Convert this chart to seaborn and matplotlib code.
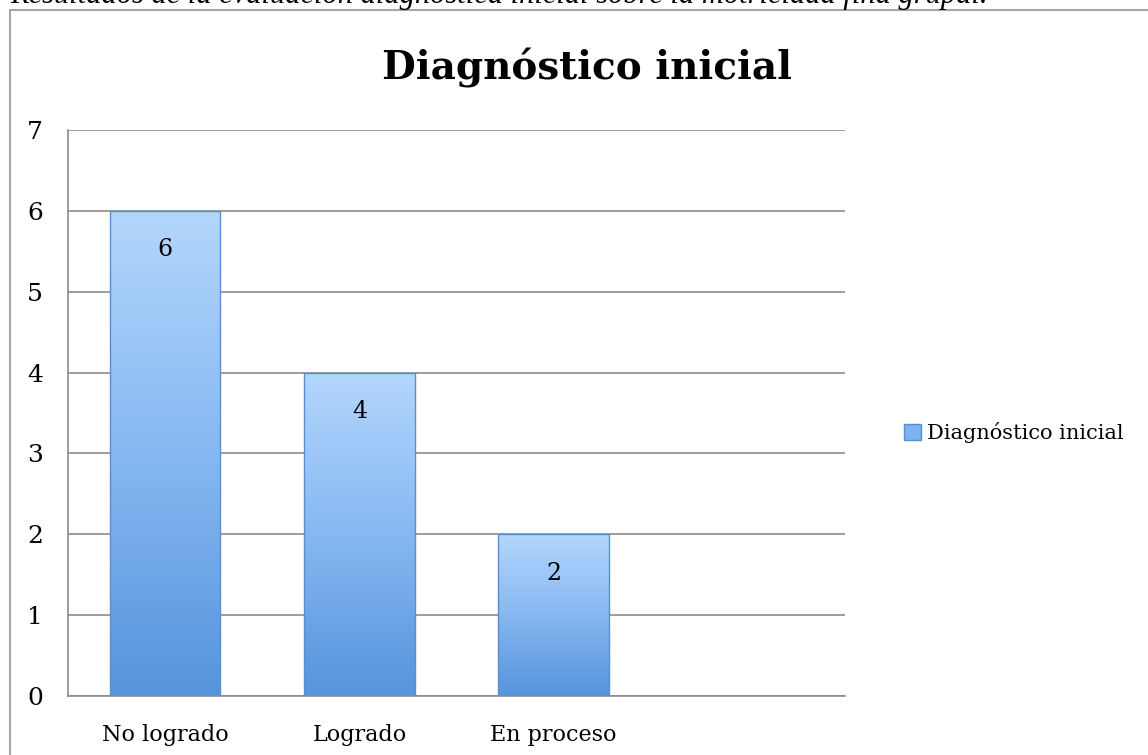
import matplotlib
matplotlib.use("Agg")
import matplotlib.pyplot as plt
import seaborn as sns
import numpy as np
import pandas as pd
from matplotlib.colors import LinearSegmentedColormap
from matplotlib.lines import Line2D
from matplotlib.patches import Patch

# datos del grafico
categorias = ["No logrado", "Logrado", "En proceso"]
valores = [6, 4, 2]
serie = "Diagnóstico inicial"
titulo = "Diagnóstico inicial"
leyenda_figura = "Resultados de la evaluación diagnóstica inicial sobre la motricidad fina grupal."
marcas_y = [0, 1, 2, 3, 4, 5, 6, 7]

sns.set_style("white")
plt.rcParams['font.family'] = ['DejaVu Serif']
plt.rcParams['text.color'] = 'black'
plt.rcParams['xtick.color'] = 'black'
plt.rcParams['ytick.color'] = 'black'

W, H = 1148, 755
fig = plt.figure(figsize=(W / 100, H / 100), dpi=100)

# caption cortado arriba
fig.text(10 / W, 1 - 3 / H, leyenda_figura, family="Liberation Serif", style="italic",
         fontsize=22, va="baseline", ha="left")

# marco del area del grafico
gris_marco = "#a6a6a6"
fig.add_artist(Line2D([10 / W, 10 / W], [0, 1 - 10 / H], color=gris_marco, lw=1.5, transform=fig.transFigure))
fig.add_artist(Line2D([10 / W, 1], [1 - 10 / H, 1 - 10 / H], color=gris_marco, lw=1.5, transform=fig.transFigure))

ax = fig.add_axes([68 / W, 1 - 696 / H, (845 - 68) / W, (696 - 130) / H])
df = pd.DataFrame({"categoria": categorias, "valor": valores})
sns.barplot(data=df, x="categoria", y="valor", ax=ax, width=0.57, color="#7fb2ee",
            saturation=1, zorder=3)

# degradado en las barras
azul = LinearSegmentedColormap.from_list("azul", ["#5694dc", "#86b8f2", "#b4d6fc"])
grad = np.linspace(0, 1, 256).reshape(-1, 1)
for p in ax.patches:
    x0, y0 = p.get_x(), p.get_y()
    w, h = p.get_width(), p.get_height()
    im = ax.imshow(grad, cmap=azul, origin="lower", aspect="auto",
                   extent=[x0, x0 + w, y0, y0 + h], zorder=3)
    im.set_clip_path(p)
    p.set_facecolor("none")
    p.set_edgecolor("#5a8fcf")
    p.set_linewidth(1.0)
    p.set_zorder(4)
    ax.annotate(f"{int(h)}", (x0 + w / 2, y0 + h), xytext=(0, -28), textcoords="offset points",
                ha="center", va="center", fontsize=17, zorder=5)

ax.set_xlim(-0.5, 3.5)
ax.set_ylim(0, 7)
ax.set_yticks(marcas_y)
ax.set_xlabel("")
ax.set_ylabel("")
ax.yaxis.grid(True, color="#8c8c8c", lw=1.2, zorder=0)
ax.set_axisbelow(True)
for s in ["top", "right"]:
    ax.spines[s].set_visible(False)
for s in ["left", "bottom"]:
    ax.spines[s].set_color("#8c8c8c")
    ax.spines[s].set_linewidth(1.2)
ax.tick_params(axis="y", length=0, pad=18, labelsize=18)
ax.tick_params(axis="x", length=0, pad=20, labelsize=16)

fig.text(587 / W, 1 - 68 / H, titulo, fontsize=28, fontweight="bold", ha="center", va="center")

mano = Patch(facecolor="#7fb2ee", edgecolor="#5a8fcf", label=serie)
fig.legend(handles=[mano], loc="center left", bbox_to_anchor=(894 / W, 1 - 433 / H),
           bbox_transform=fig.transFigure, frameon=False, fontsize=15,
           handlelength=0.8, handleheight=0.8, handletextpad=0.3, borderpad=0)

fig.savefig("out.png", dpi=100)
